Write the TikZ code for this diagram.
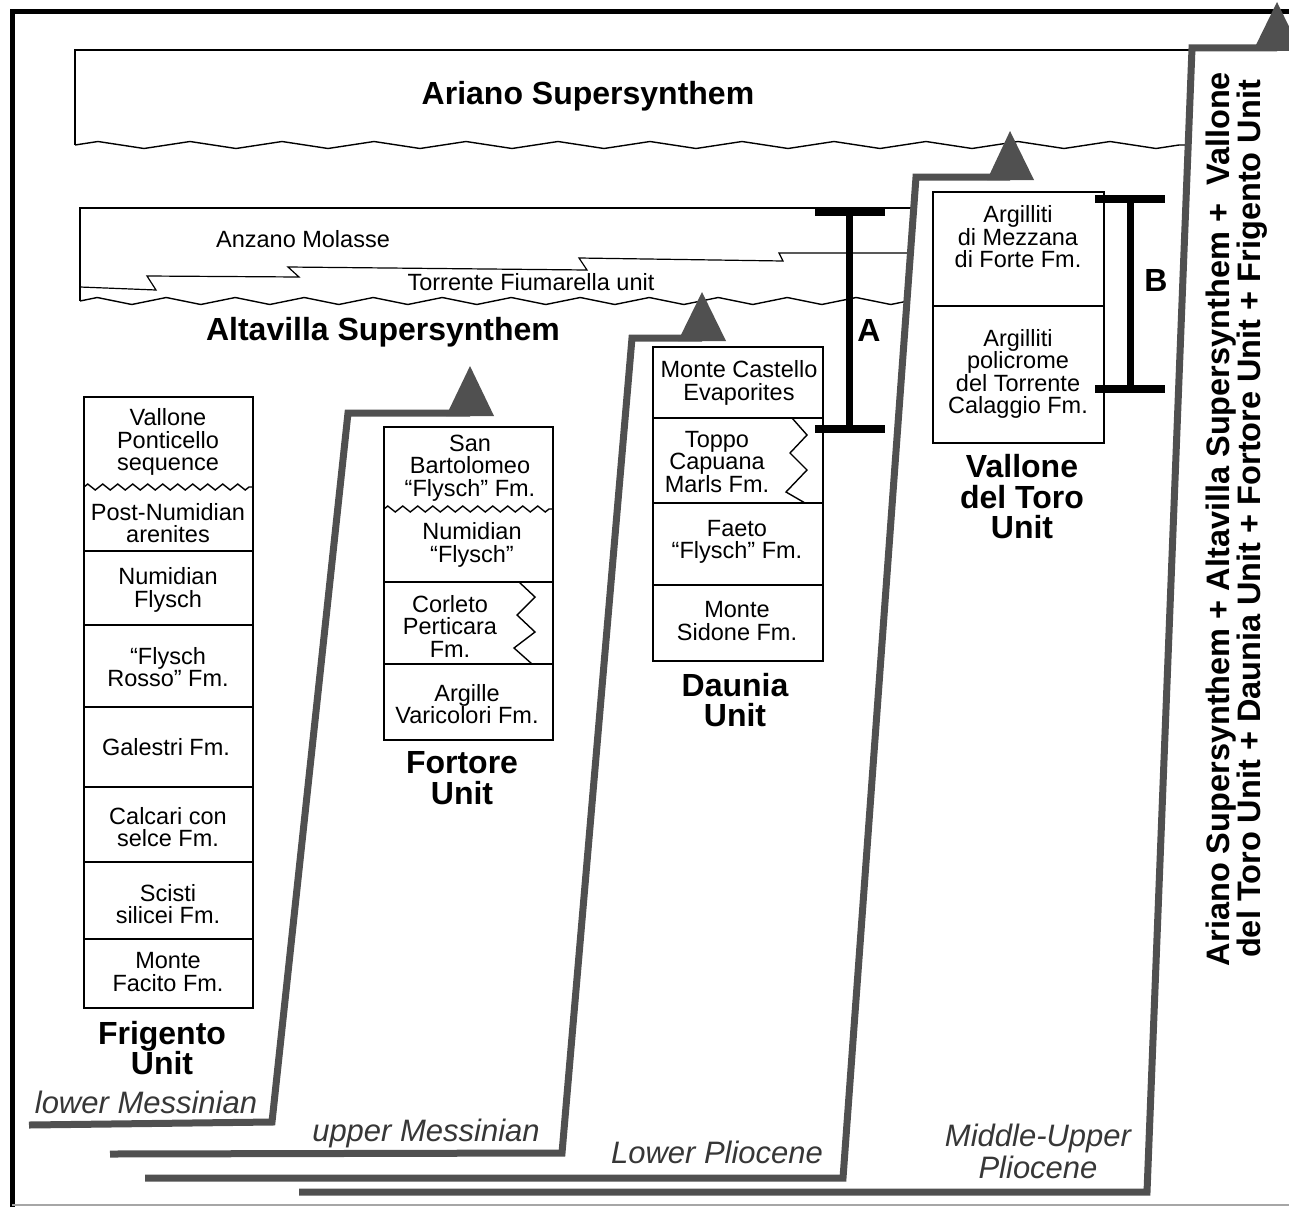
\documentclass[tikz,border=0pt]{standalone}
\usepackage{fontspec}
\setmainfont{Liberation Sans}
\usetikzlibrary{decorations.pathmorphing}
\definecolor{thr}{RGB}{80,80,80}
\definecolor{agec}{RGB}{55,55,55}
\tikzset{
  cell/.style={draw=black, line width=1.4pt},
  thrust/.style={draw=thr, line width=7pt, line join=miter},
  tri/.style={fill=thr, draw=none},
  body/.style={font=\fontsize{23.5}{22.5}\selectfont, align=center, inner sep=0pt},
  unitlbl/.style={font=\bfseries\fontsize{32}{30.5}\selectfont, align=center, inner sep=0pt},
  agelbl/.style={font=\itshape\fontsize{31}{32}\selectfont, text=agec, inner sep=0pt, anchor=base},
  barline/.style={line width=7pt, draw=black},
  crossbar/.style={line width=8pt, draw=black},
  bigwave/.style={decorate, decoration={zigzag, segment length=92pt, amplitude=3.5pt}},
  midwave/.style={decorate, decoration={zigzag, segment length=69pt, amplitude=3.5pt}},
  smallwave/.style={decorate, decoration={zigzag, segment length=15pt, amplitude=3pt}},
}
\begin{document}
\begin{tikzpicture}[x=1pt,y=-1pt]
\useasboundingbox (0,0) rectangle (1289,1207);
\fill[white] (0,0) rectangle (1289,1207);
\begin{scope}
\clip (0,0) rectangle (1289,1207);

% frame
\draw[line width=5pt] (12,1207) -- (12,12) -- (1289,12);
\draw[gray!70, line width=2pt] (12,1205) -- (1289,1205);

% Ariano box
\draw[cell] (1190,50) -- (75,50) -- (75,145);
\draw[cell, bigwave] (75,145) -- (1186,145);
\node[unitlbl] (ari) at (588,96) {Ariano Supersynthem};

% Anzano box
\draw[cell] (913,208) -- (80,208) -- (80,301);
\draw[cell, midwave] (80,301) -- (908,301);
\draw[cell, line width=1.2pt] (80,287) -- (156,290) -- (147,276) -- (299,277) -- (288,267) -- (587,270) -- (579,258) -- (783,261) -- (779,253) -- (910,253);
\node[body] (anz) at (303,239) {Anzano Molasse};
\node[body] (tfu) at (531,282) {Torrente Fiumarella unit};
\node[unitlbl] (alt) at (383,332) {Altavilla Supersynthem};

% Frigento column
\draw[cell] (84,397) rectangle (253,1008);
\draw[cell, smallwave] (84,487) -- (253,487);
\foreach \yy in {551,625,707,787,862,939} \draw[cell] (84,\yy) -- (253,\yy);
\node[body] (vp) at (168,442) {Vallone\\Ponticello\\sequence};
\node[body] (pn) at (168,523) {Post-Numidian\\arenites};
\node[body] (nf) at (168,590) {Numidian\\Flysch};
\node[body] (fr) at (168,667) {“Flysch\\Rosso” Fm.};
\node[body] (gf) at (166,747) {Galestri Fm.};
\node[body] (cs) at (168,827) {Calcari con\\selce Fm.};
\node[body] (ss) at (168,904) {Scisti\\silicei Fm.};
\node[body] (mf) at (168,972) {Monte\\Facito Fm.};
\node[unitlbl] (fri) at (162,1048) {Frigento\\Unit};

% Fortore column
\draw[cell] (384,427) rectangle (553,740);
\draw[cell, smallwave] (384,509) -- (553,509);
\draw[cell] (384,582) -- (553,582);
\draw[cell] (384,664) -- (553,664);
\draw[cell] (519,582) -- (535,597) -- (517,615) -- (535,632) -- (514,648) -- (532,664);
\node[body] (sb) at (470,468) {San\\Bartolomeo\\“Flysch” Fm.};
\node[body] (nuf) at (472,545) {Numidian\\“Flysch”};
\node[body] (cp) at (450,626) {Corleto\\Perticara\\Fm.};
\node[body] (av) at (467,704) {Argille\\Varicolori Fm.};
\node[unitlbl] (fort) at (462,778) {Fortore\\Unit};

% Daunia column
\draw[cell] (653,347) rectangle (823,661);
\draw[cell] (653,418) -- (823,418);
\draw[cell] (653,503) -- (823,503);
\draw[cell] (653,585) -- (823,585);
\draw[cell] (792,418) -- (807,435) -- (790,453) -- (807,470) -- (786,492) -- (805,503);
\node[body] (mc) at (739,383) {Monte Castello\\Evaporites};
\node[body] (tc) at (717,462) {Toppo\\Capuana\\Marls Fm.};
\node[body] (ff) at (737,542) {Faeto\\“Flysch” Fm.};
\node[body] (ms) at (737,621) {Monte\\Sidone Fm.};
\node[unitlbl] (dau) at (735,700) {Daunia\\Unit};

% Vallone del Toro column
\draw[cell] (933,192) rectangle (1104,443);
\draw[cell] (933,306) -- (1104,306);
\node[body] (am) at (1018,237) {Argilliti\\di Mezzana\\di Forte Fm.};
\node[body] (ap) at (1018,374) {Argilliti\\policrome\\del Torrente\\Calaggio Fm.};
\node[unitlbl] (vdt) at (1022,497) {Vallone\\del Toro\\Unit};

% bars A and B
\coordinate (atop) at (849,212);
\coordinate (abot) at (849,429);
\draw[barline] (atop) -- (abot);
\draw[crossbar] (815,212) -- (885,212);
\draw[crossbar] (815,429) -- (885,429);
\node[unitlbl] (la) at (869,330) {A};
\coordinate (btop) at (1130,199);
\coordinate (bbot) at (1130,389);
\draw[barline] (btop) -- (bbot);
\draw[crossbar] (1095,199) -- (1165,199);
\draw[crossbar] (1095,389) -- (1165,389);
\node[unitlbl] (lb) at (1156,280) {B};

% thrusts
\draw[thrust] (29,1125) -- (272,1122) -- (348,413) -- (470,413);
\fill[tri] (446,416) -- (470,366) -- (494,416) -- cycle;
\draw[thrust] (110,1154) -- (562,1153) -- (632,338) -- (702,338);
\fill[tri] (678,341) -- (702,292) -- (726,341) -- cycle;
\draw[thrust] (145,1178) -- (843,1178) -- (916,177) -- (1010,177);
\fill[tri] (987,180) -- (1010,131) -- (1034,180) -- cycle;
\draw[thrust] (299,1192) -- (1147,1192) -- (1192,48) -- (1277,48);
\fill[tri] (1253,51) -- (1277,2) -- (1301,51) -- cycle;

% age labels
\node[agelbl] (lm) at (146,1113) {lower Messinian};
\node[agelbl] (um) at (426,1141) {upper Messinian};
\node[agelbl] (lp) at (717,1163) {Lower Pliocene};
\node[agelbl] (mu) at (1038,1146) {Middle-Upper};
\node[agelbl] (pl) at (1038,1178) {Pliocene};

% rotated summary
\node[font=\bfseries\fontsize{32.5}{30}\selectfont, align=center, inner sep=0pt, rotate=90] (sum) at (1237,519)
  {Ariano Supersynthem + Altavilla Supersynthem + \ Vallone\\del Toro Unit + Daunia Unit + Fortore Unit + Frigento Unit};
\end{scope}
\end{tikzpicture}
\end{document}
